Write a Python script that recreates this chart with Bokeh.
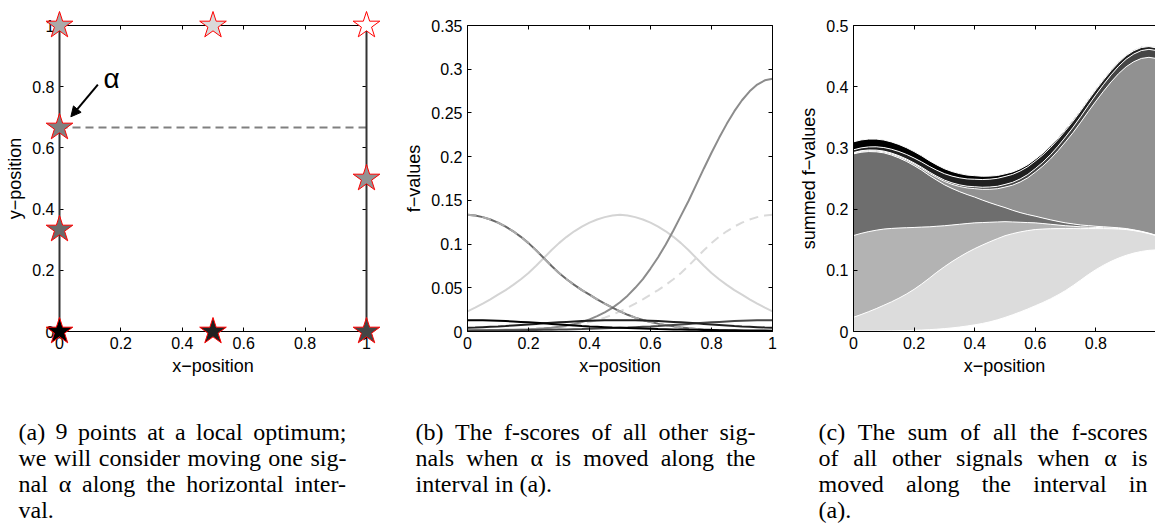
from bokeh.plotting import figure
from bokeh.layouts import row, column
from bokeh.models import (Range1d, LinearAxis, FixedTicker, CustomJSTickFormatter,
                          Arrow, NormalHead, Label, ColumnDataSource)
from bokeh.embed import file_html
from bokeh.resources import INLINE
from bokeh.core.properties import value

SANS = "Liberation Sans"
SERIF = "Liberation Serif"

# ---------------- data ----------------
# (a) nine signals: positions and grey levels (alpha is the 4th)
pt_x = [0.0, 0.5, 1.0, 0.0, 1.0, 0.0, 0.0, 0.5, 1.0]
pt_y = [1.0, 1.0, 1.0, 0.6667, 0.5, 0.3333, 0.0, 0.0, 0.0]
pt_fill = ["#aaaaaa", "#d9d9d9", "#ffffff", "#808080", "#939393",
           "#6a6a6a", "#000000", "#202020", "#454545"]
alpha_x = 0.0
alpha_y = 0.6667
interval_x = [0.0, 1.0]
interval_y0 = [0.0, 0.0]
interval_y1 = [1.0, 1.0]
path_x = [0.0, 1.0]
path_y = [0.6667, 0.6667]

# (b)/(c) f-values of the other signals vs. alpha's x-position
x_pos = [0.000, 0.025, 0.050, 0.075, 0.100, 0.125, 0.150, 0.175, 0.200, 0.225,
         0.250, 0.275, 0.300, 0.325, 0.350, 0.375, 0.400, 0.425, 0.450, 0.475,
         0.500, 0.525, 0.550, 0.575, 0.600, 0.625, 0.650, 0.675, 0.700, 0.725,
         0.750, 0.775, 0.800, 0.825, 0.850, 0.875, 0.900, 0.925, 0.950, 0.975, 1.000]
f_top_left = [0.1335, 0.1326, 0.1308, 0.1281, 0.1245, 0.1200, 0.1146, 0.1083, 0.1011, 0.0930,
              0.0840, 0.0752, 0.0670, 0.0598, 0.0533, 0.0474, 0.0421, 0.0368, 0.0319, 0.0273,
              0.0230, 0.0191, 0.0158, 0.0131, 0.0109, 0.0090, 0.0073, 0.0059, 0.0047, 0.0038,
              0.0030, 0.0024, 0.0019, 0.0015, 0.0012, 0.0010, 0.0008, 0.0006, 0.0005, 0.0004, 0.0003]
f_low_left = [0.1335, 0.1326, 0.1308, 0.1281, 0.1245, 0.1200, 0.1146, 0.1083, 0.1011, 0.0930,
              0.0840, 0.0752, 0.0670, 0.0598, 0.0533, 0.0474, 0.0421, 0.0368, 0.0319, 0.0273,
              0.0230, 0.0191, 0.0158, 0.0131, 0.0109, 0.0090, 0.0073, 0.0059, 0.0047, 0.0038,
              0.0030, 0.0024, 0.0019, 0.0015, 0.0012, 0.0010, 0.0008, 0.0006, 0.0005, 0.0004, 0.0003]
f_top_mid = [0.0230, 0.0273, 0.0319, 0.0368, 0.0421, 0.0474, 0.0533, 0.0598, 0.0670, 0.0752,
             0.0840, 0.0930, 0.1011, 0.1083, 0.1146, 0.1200, 0.1245, 0.1281, 0.1308, 0.1326,
             0.1335, 0.1326, 0.1308, 0.1281, 0.1245, 0.1200, 0.1146, 0.1083, 0.1011, 0.0930,
             0.0840, 0.0752, 0.0670, 0.0598, 0.0533, 0.0474, 0.0421, 0.0368, 0.0319, 0.0273, 0.0230]
f_top_right = [0.0003, 0.0004, 0.0005, 0.0006, 0.0008, 0.0010, 0.0012, 0.0015, 0.0019, 0.0024,
               0.0030, 0.0038, 0.0047, 0.0059, 0.0073, 0.0090, 0.0109, 0.0131, 0.0158, 0.0191,
               0.0230, 0.0273, 0.0319, 0.0368, 0.0421, 0.0474, 0.0533, 0.0598, 0.0670, 0.0752,
               0.0840, 0.0930, 0.1011, 0.1083, 0.1146, 0.1200, 0.1245, 0.1281, 0.1308, 0.1326, 0.1335]
f_mid_right = [0.0013, 0.0014, 0.0015, 0.0016, 0.0017, 0.0019, 0.0021, 0.0024, 0.0027, 0.0031,
               0.0037, 0.0044, 0.0054, 0.0067, 0.0085, 0.0108, 0.0138, 0.0175, 0.0220, 0.0270,
               0.0335, 0.0410, 0.0500, 0.0600, 0.0720, 0.0850, 0.0995, 0.1155, 0.1325, 0.1495,
               0.1680, 0.1865, 0.2045, 0.2215, 0.2375, 0.2520, 0.2645, 0.2747, 0.2825, 0.2873, 0.2890]
f_bot_left = [0.0130, 0.0130, 0.0128, 0.0126, 0.0123, 0.0119, 0.0115, 0.0110, 0.0105, 0.0099,
              0.0093, 0.0087, 0.0081, 0.0075, 0.0069, 0.0063, 0.0058, 0.0054, 0.0050, 0.0046,
              0.0043, 0.0040, 0.0037, 0.0034, 0.0031, 0.0028, 0.0026, 0.0024, 0.0022, 0.0020,
              0.0019, 0.0017, 0.0016, 0.0015, 0.0014, 0.0013, 0.0012, 0.0012, 0.0011, 0.0011, 0.0010]
f_bot_mid = [0.0043, 0.0046, 0.0050, 0.0054, 0.0058, 0.0063, 0.0069, 0.0075, 0.0081, 0.0087,
             0.0093, 0.0099, 0.0105, 0.0110, 0.0115, 0.0119, 0.0123, 0.0126, 0.0128, 0.0130,
             0.0130, 0.0130, 0.0128, 0.0126, 0.0123, 0.0119, 0.0115, 0.0110, 0.0105, 0.0099,
             0.0093, 0.0087, 0.0081, 0.0075, 0.0069, 0.0063, 0.0058, 0.0054, 0.0050, 0.0046, 0.0043]
f_bot_right = [0.0010, 0.0011, 0.0011, 0.0012, 0.0012, 0.0013, 0.0014, 0.0015, 0.0016, 0.0017,
               0.0019, 0.0020, 0.0022, 0.0024, 0.0026, 0.0028, 0.0031, 0.0034, 0.0037, 0.0040,
               0.0043, 0.0046, 0.0050, 0.0054, 0.0058, 0.0063, 0.0069, 0.0075, 0.0081, 0.0087,
               0.0093, 0.0099, 0.0105, 0.0110, 0.0115, 0.0119, 0.0123, 0.0126, 0.0128, 0.0130, 0.0130]

ticks_a = [0, 0.2, 0.4, 0.6, 0.8, 1.0]
ticks_b_y = [0, 0.05, 0.1, 0.15, 0.2, 0.25, 0.3, 0.35]
ticks_c_y = [0, 0.1, 0.2, 0.3, 0.4, 0.5]

cap_a = ["(a) 9 points at a local optimum;",
         "we will consider moving one sig-",
         "nal α along the horizontal inter-",
         "val."]
cap_b = ["(b) The f-scores of all other sig-",
         "nals when α is moved along the",
         "interval in (a)."]
cap_c = ["(c) The sum of all the f-scores",
         "of all other signals when α is",
         "moved along the interval in",
         "(a)."]

# ---------------- helpers ----------------
fmt = CustomJSTickFormatter(code="return String(Number(tick.toPrecision(6)));")


def add_axes(p, xt, yt, sides, xlabel=None, ylabel=None):
    for side in sides:
        horiz = side in ("below", "above")
        ax = LinearAxis(ticker=FixedTicker(ticks=xt if horiz else yt), formatter=fmt)
        ax.major_tick_in = 4
        ax.major_tick_out = 0
        ax.minor_tick_line_color = None
        ax.axis_line_color = "black"
        ax.major_tick_line_color = "black"
        ax.major_label_text_font = SANS
        ax.major_label_text_font_size = "16px"
        ax.major_label_text_color = "black"
        ax.major_label_standoff = 5
        ax.axis_label_text_font = SANS
        ax.axis_label_text_font_size = "18px"
        ax.axis_label_text_font_style = "normal"
        ax.axis_label_text_color = "black"
        ax.axis_label_standoff = 4
        if side in ("above", "right"):
            # box ticks only (MATLAB style), no labels on these sides
            ax.major_label_text_font_size = "1px"
            ax.major_label_text_color = None
            ax.major_label_standoff = 0
        if side == "below" and xlabel:
            ax.axis_label = xlabel
        if side == "left" and ylabel:
            ax.axis_label = ylabel
        p.add_layout(ax, side)


def base_fig(width, height, xr, yr, bl, br, bt, bb):
    p = figure(width=width, height=height, x_range=xr, y_range=yr,
               output_backend="svg", toolbar_location=None,
               x_axis_location=None, y_axis_location=None,
               min_border_left=bl, min_border_right=br,
               min_border_top=bt, min_border_bottom=bb)
    p.outline_line_color = None
    p.xgrid.visible = False
    p.ygrid.visible = False
    p.background_fill_color = "white"
    p.border_fill_color = "white"
    return p


# ---------------- (a) ----------------
pa = base_fig(400, 390, Range1d(0, 1), Range1d(0, 1), 59, 34, 24, 59)
add_axes(pa, ticks_a, ticks_a, ["below", "left", "above", "right"],
         "x\u2212position", "y\u2212position")
pa.segment(x0=interval_x, y0=interval_y0, x1=interval_x, y1=interval_y1,
           line_color="#333333", line_width=2, level="overlay")
pa.line(path_x, path_y, line_color="#808080", line_width=2, line_dash="8 5")
pa.scatter(pt_x, pt_y, marker="star", size=28, fill_color=pt_fill,
           line_color="#ff0000", line_width=1, level="overlay")
pa.add_layout(Arrow(end=NormalHead(size=10, fill_color="black", line_color="black"),
                    x_start=alpha_x + 0.125, y_start=alpha_y + 0.14,
                    x_end=alpha_x + 0.037, y_end=alpha_y + 0.035,
                    line_color="black", line_width=2))
pa.add_layout(Label(x=alpha_x + 0.17, y=alpha_y + 0.16, text="α",
                    text_font=SANS, text_font_size="28px", text_color="black",
                    text_align="center", text_baseline="middle"))

# ---------------- (b) ----------------
pb = base_fig(390, 390, Range1d(0, 1), Range1d(0, 0.35), 67, 18, 25, 59)
add_axes(pb, ticks_a, ticks_b_y, ["below", "left", "above", "right"],
         "x\u2212position", "f\u2212values")
pb.line(x_pos, f_top_mid, line_color="#d4d4d4", line_width=2)
pb.line(x_pos, f_top_right, line_color="#dadada", line_width=2, line_dash="9 6")
pb.line(x_pos, f_mid_right, line_color="#8c8c8c", line_width=2)
pb.line(x_pos, f_low_left, line_color="#6a6a6a", line_width=2)
pb.line(x_pos, f_top_left, line_color="#aaaaaa", line_width=2, line_dash="9 6")
pb.line(x_pos, f_bot_right, line_color="#454545", line_width=2)
pb.line(x_pos, f_bot_mid, line_color="#202020", line_width=2)
pb.line(x_pos, f_bot_left, line_color="#000000", line_width=2)

# ---------------- (c) ----------------
pc = base_fig(365, 390, Range1d(0, 0.9967), Range1d(0, 0.5), 63, 0, 25, 59)
add_axes(pc, ticks_a, ticks_c_y, ["below", "left", "above"],
         "x\u2212position", "summed f\u2212values")
src = ColumnDataSource(dict(x=x_pos, w=f_top_right, b=f_top_mid, a=f_top_left,
                            d=f_low_left, i=f_mid_right, r=f_bot_right,
                            m=f_bot_mid, k=f_bot_left))
stackers = ["w", "b", "a", "d", "i", "r", "m", "k"]
area_colors = ["#ffffff", "#dcdcdc", "#b3b3b3", "#6e6e6e", "#919191",
               "#454545", "#202020", "#000000"]
pc.varea_stack(stackers, x="x", color=area_colors, source=src)
pc.vline_stack(stackers, x="x", color="white", line_width=1, source=src)

# ---------------- captions ----------------
TW = {' ': 250, '(': 333, ')': 333, ';': 278, '.': 250, '-': 333, '9': 500, 'α': 520,
      'a': 444, 'b': 500, 'c': 444, 'd': 500, 'e': 444, 'f': 333, 'g': 500, 'h': 500,
      'i': 278, 'j': 278, 'k': 500, 'l': 278, 'm': 778, 'n': 500, 'o': 500, 'p': 500,
      'q': 500, 'r': 333, 's': 389, 't': 278, 'u': 500, 'v': 500, 'w': 722, 'x': 500,
      'y': 500, 'z': 444, 'T': 611}
CAP_SIZE = 24


def tw(s):
    return sum(TW.get(ch, 500) for ch in s) / 1000.0 * CAP_SIZE


cap_x0 = [18, 415, 818]
cap_x1 = [346, 755, 1147]
cap_y0 = 431
cap_dy = 26
cx, cy, ct = [], [], []
for lines, x0, x1 in zip([cap_a, cap_b, cap_c], cap_x0, cap_x1):
    for i, line in enumerate(lines):
        y = cap_y0 + i * cap_dy
        words = line.split(" ")
        if i < len(lines) - 1 and len(words) > 1:
            widths = [tw(w) for w in words]
            gap = (x1 - x0 - sum(widths)) / (len(words) - 1)
            x = x0
            for w, wd in zip(words, widths):
                cx.append(x); cy.append(y); ct.append(w)
                x += wd + gap
        else:
            cx.append(x0); cy.append(y); ct.append(line)

pcap = figure(width=1155, height=137, x_range=Range1d(0, 1155), y_range=Range1d(527, 390),
              output_backend="svg", toolbar_location=None,
              x_axis_location=None, y_axis_location=None, min_border=0)
pcap.outline_line_color = None
pcap.xgrid.visible = False
pcap.ygrid.visible = False
pcap.text(x=cx, y=cy, text=ct, text_font=value(SERIF), text_font_size=value("24px"),
          text_color="black", text_align="left", text_baseline="middle")

layout = column(row(pa, pb, pc), pcap)
open("out.html", "w").write(file_html(layout, INLINE))
